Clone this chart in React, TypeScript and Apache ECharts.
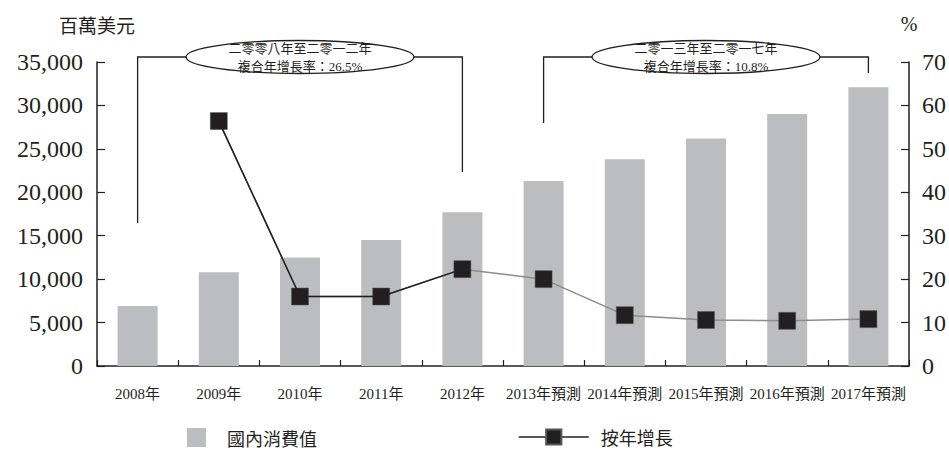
import React, { useEffect, useRef } from 'react';
import * as echarts from 'echarts';

const categories = ['2008年', '2009年', '2010年', '2011年', '2012年', '2013年預測', '2014年預測', '2015年預測', '2016年預測', '2017年預測'];
const consumption = [6900, 10800, 12500, 14500, 17700, 21300, 23800, 26200, 29000, 32100];
const growth: (number | null)[] = [null, 56.4, 16.0, 16.0, 22.3, 20.0, 11.7, 10.6, 10.4, 10.8];
const blackSegmentEnd = 4;
const leftAxisMax = 35000;
const leftAxisStep = 5000;
const rightAxisMax = 70;
const rightAxisStep = 10;
const notes = [
  { from: 0, to: 4, line1: '二零零八年至二零一二年', line2: '複合年增長率：26.5%', leftLegY: 223, rightLegY: 172 },
  { from: 5, to: 9, line1: '二零一三年至二零一七年', line2: '複合年增長率：10.8%', leftLegY: 123, rightLegY: 73 },
];

const INK = '#231f20';
const SERIF = '"Liberation Serif", "Noto Sans CJK TC", serif';
const CJK = '"Noto Sans CJK TC", "Liberation Serif", sans-serif';

export default function App() {
  const ref = useRef<HTMLDivElement>(null);
  useEffect(() => {
    if (!ref.current) return;
    const chart = echarts.init(ref.current, null, { renderer: 'svg' });
    const axisCommon = {
      axisLine: { show: true, lineStyle: { color: INK, width: 1.5 } },
      axisTick: { show: true, inside: true, length: 8, lineStyle: { color: INK, width: 1.2 } },
      splitLine: { show: false },
    };
    chart.setOption({
      animation: false,
      backgroundColor: '#ffffff',
      grid: { left: 97, right: 39, top: 62, bottom: 90, containLabel: false },
      legend: [
        {
          left: 187, top: 428, itemWidth: 19, itemHeight: 19, icon: 'rect', padding: 0,
          data: ['國內消費值'],
          textStyle: { fontSize: 18, fontFamily: CJK, color: INK, padding: [0, 0, 0, 16] },
        },
        {
          left: 518, top: 428, itemWidth: 70, itemHeight: 19, padding: 0,
          data: [{ name: '按年增長', itemStyle: { color: INK }, lineStyle: { color: INK, width: 1.5 } }],
          textStyle: { fontSize: 18, fontFamily: CJK, color: INK, padding: [0, 0, 0, 7] },
        },
      ],
      xAxis: {
        type: 'category',
        data: categories,
        boundaryGap: true,
        axisLine: { show: true, lineStyle: { color: INK, width: 1.5 } },
        axisTick: { show: true, inside: true, length: 6, lineStyle: { color: INK, width: 1.2 } },
        axisLabel: { interval: 0, fontSize: 15, fontFamily: SERIF, color: INK, margin: 20 },
      },
      yAxis: [
        {
          type: 'value', min: 0, max: leftAxisMax, interval: leftAxisStep,
          name: '百萬美元', nameLocation: 'end', nameGap: 28,
          nameTextStyle: { fontSize: 19, fontFamily: CJK, color: INK, align: 'center' },
          ...axisCommon,
          axisLabel: {
            fontSize: 24, fontFamily: SERIF, color: INK, margin: 14,
            formatter: (v: number) => v.toLocaleString('en-US'),
          },
        },
        {
          type: 'value', min: 0, max: rightAxisMax, interval: rightAxisStep, position: 'right',
          name: '%', nameLocation: 'end', nameGap: 28,
          nameTextStyle: { fontSize: 20, fontFamily: SERIF, color: INK, align: 'center' },
          ...axisCommon,
          axisLabel: { fontSize: 24, fontFamily: SERIF, color: INK, margin: 13 },
        },
      ],
      series: [
        {
          name: '國內消費值', type: 'bar', data: consumption, barWidth: 40,
          itemStyle: { color: '#bcbdc0' }, z: 1,
        },
        {
          name: '按年增長', type: 'line', yAxisIndex: 1, data: growth,
          symbol: 'rect', symbolSize: 17, showAllSymbol: true,
          lineStyle: { color: '#8c8c8c', width: 1.5 },
          itemStyle: { color: INK, borderColor: '#555', borderWidth: 0.5 }, z: 3,
        },
        {
          name: '按年增長-黑段', type: 'line', yAxisIndex: 1,
          data: growth.map((v, i) => (i <= blackSegmentEnd ? v : null)),
          symbol: 'none', lineStyle: { color: INK, width: 1.5 }, z: 4, silent: true,
        },
      ],
    });

    const bracketY = 57;
    const graphics: any[] = [];
    notes.forEach((n) => {
      const x1 = chart.convertToPixel({ xAxisIndex: 0 }, n.from) as number;
      const x2 = chart.convertToPixel({ xAxisIndex: 0 }, n.to) as number;
      const cx = (x1 + x2) / 2;
      const rx = 114;
      const ry = 16.5;
      graphics.push(
        { type: 'polyline', shape: { points: [[x1, n.leftLegY], [x1, bracketY], [x2, bracketY], [x2, n.rightLegY]] }, style: { stroke: INK, lineWidth: 1.3, fill: null }, z: 10 },
        { type: 'ellipse', shape: { cx, cy: bracketY, rx, ry }, style: { fill: '#fff', stroke: INK, lineWidth: 1.3 }, z: 11 },
        { type: 'text', x: cx, y: 48, style: { text: n.line1, fontSize: 13, fontFamily: SERIF, fill: INK, align: 'center', verticalAlign: 'middle' }, z: 12 },
        { type: 'text', x: cx, y: 66, style: { text: n.line2, fontSize: 13, fontFamily: SERIF, fill: INK, align: 'center', verticalAlign: 'middle' }, z: 12 },
      );
    });
    chart.setOption({ graphic: graphics });

    return () => chart.dispose();
  }, []);
  return <div ref={ref} style={{ position: 'fixed', left: 0, top: 0, width: 949, height: 456 }} />;
}
